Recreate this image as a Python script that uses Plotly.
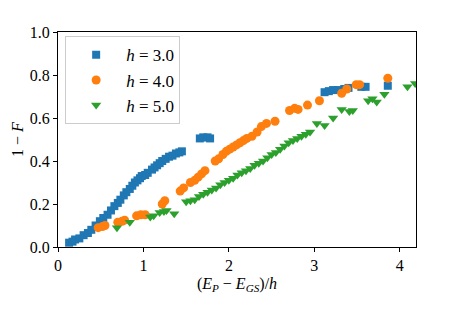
import plotly.graph_objects as go

# h = 3.0
x_h3 = [0.13, 0.17, 0.20, 0.25, 0.30, 0.35, 0.39, 0.44, 0.49, 0.53, 0.58, 0.62, 0.66, 0.70, 0.73, 0.77,
        0.80, 0.84, 0.87, 0.90, 0.93, 0.96, 0.98, 1.02, 1.05, 1.10, 1.13, 1.16, 1.19, 1.22, 1.26, 1.30,
        1.34, 1.38, 1.42, 1.45, 1.66, 1.70, 1.75, 1.78, 3.12, 3.17, 3.22, 3.28, 3.35, 3.40, 3.55, 3.60, 3.86]
y_h3 = [0.020, 0.025, 0.035, 0.040, 0.055, 0.065, 0.080, 0.100, 0.120, 0.135, 0.150, 0.170, 0.190, 0.205, 0.220, 0.240,
        0.255, 0.270, 0.285, 0.300, 0.310, 0.320, 0.330, 0.335, 0.345, 0.360, 0.370, 0.380, 0.390, 0.400, 0.410, 0.420,
        0.425, 0.435, 0.440, 0.445, 0.505, 0.510, 0.510, 0.505, 0.720, 0.725, 0.730, 0.730, 0.735, 0.740, 0.745, 0.745, 0.750]

# h = 4.0
x_h4 = [0.47, 0.52, 0.55, 0.70, 0.75, 0.78, 0.92, 0.97, 1.02, 1.22, 1.25, 1.43, 1.47, 1.55, 1.60, 1.64,
        1.68, 1.72, 1.84, 1.88, 1.93, 1.97, 2.01, 2.05, 2.09, 2.13, 2.17, 2.21, 2.27, 2.33, 2.38, 2.44,
        2.54, 2.71, 2.77, 2.81, 2.92, 3.06, 3.32, 3.38, 3.49, 3.53, 3.86]
y_h4 = [0.090, 0.095, 0.100, 0.115, 0.120, 0.125, 0.145, 0.150, 0.150, 0.200, 0.215, 0.260, 0.275, 0.300, 0.310, 0.325,
        0.340, 0.355, 0.400, 0.410, 0.430, 0.445, 0.455, 0.465, 0.475, 0.485, 0.495, 0.505, 0.515, 0.535, 0.560, 0.575,
        0.585, 0.635, 0.645, 0.640, 0.660, 0.680, 0.715, 0.735, 0.755, 0.755, 0.785]

# h = 5.0
x_h5 = [0.69, 0.84, 1.08, 1.12, 1.19, 1.24, 1.27, 1.36, 1.50, 1.55, 1.60, 1.65, 1.70, 1.75, 1.80, 1.85,
        1.90, 1.95, 2.00, 2.05, 2.10, 2.15, 2.20, 2.25, 2.30, 2.35, 2.40, 2.45, 2.50, 2.55, 2.60, 2.65,
        2.70, 2.75, 2.80, 2.85, 2.90, 2.95, 3.03, 3.12, 3.22, 3.32, 3.41, 3.45, 3.63, 3.68, 3.73, 3.82, 4.09, 4.18]
y_h5 = [0.090, 0.115, 0.140, 0.145, 0.160, 0.165, 0.170, 0.155, 0.210, 0.215, 0.220, 0.235, 0.245, 0.255, 0.265, 0.275,
        0.290, 0.300, 0.310, 0.320, 0.335, 0.345, 0.355, 0.365, 0.380, 0.390, 0.400, 0.415, 0.430, 0.440, 0.455, 0.470,
        0.485, 0.495, 0.505, 0.515, 0.525, 0.535, 0.575, 0.565, 0.600, 0.640, 0.630, 0.635, 0.680, 0.690, 0.675, 0.710, 0.745, 0.760]

series = [
    ("<i>h</i> = 3.0", x_h3, y_h3, "square", "#1f77b4", 8),
    ("<i>h</i> = 4.0", x_h4, y_h4, "circle", "#ff7f0e", 9),
    ("<i>h</i> = 5.0", x_h5, y_h5, "triangle-down", "#2ca02c", 9),
]

fig = go.Figure()
for name, xs, ys, sym, col, sz in series:
    fig.add_trace(go.Scatter(x=xs, y=ys, mode="markers", name=name,
                             marker=dict(symbol=sym, color=col, size=sz, line=dict(width=0))))

serif = "Liberation Serif"
axis_common = dict(showgrid=False, zeroline=False, showline=True, linecolor="black", linewidth=1,
                   mirror=True, ticks="outside", ticklen=4, tickcolor="black", automargin=False,
                   tickfont=dict(family=serif, size=16, color="black"))

# page body has an 8px default margin, so the figure is 8px smaller and margins shifted
fig.update_layout(
    width=455, height=301,
    margin=dict(l=50, r=47, t=24, b=62),
    paper_bgcolor="white", plot_bgcolor="white",
    font=dict(family=serif, color="black"),
    xaxis=dict(range=[0, 4.19], tickvals=[0, 1, 2, 3, 4], ticktext=["0", "1", "2", "3", "4"],
               title=dict(text="(<i>E<sub>P</sub></i> − <i>E<sub>GS</sub></i>)/<i>h</i>",
                          font=dict(family=serif, size=16), standoff=4),
               **axis_common),
    yaxis=dict(range=[0, 1.0], tickvals=[0, 0.2, 0.4, 0.6, 0.8, 1.0],
               ticktext=["0.0", "0.2", "0.4", "0.6", "0.8", "1.0"],
               title=dict(text="1 − <i>F</i>", font=dict(family=serif, size=16), standoff=2),
               **axis_common),
    legend=dict(x=0.02, y=0.98, xanchor="left", yanchor="top",
                bgcolor="rgba(255,255,255,0.8)", bordercolor="#cccccc", borderwidth=1,
                font=dict(family=serif, size=17), itemwidth=50, tracegroupgap=0),
    showlegend=True,
)

fig.write_html("out.html")
